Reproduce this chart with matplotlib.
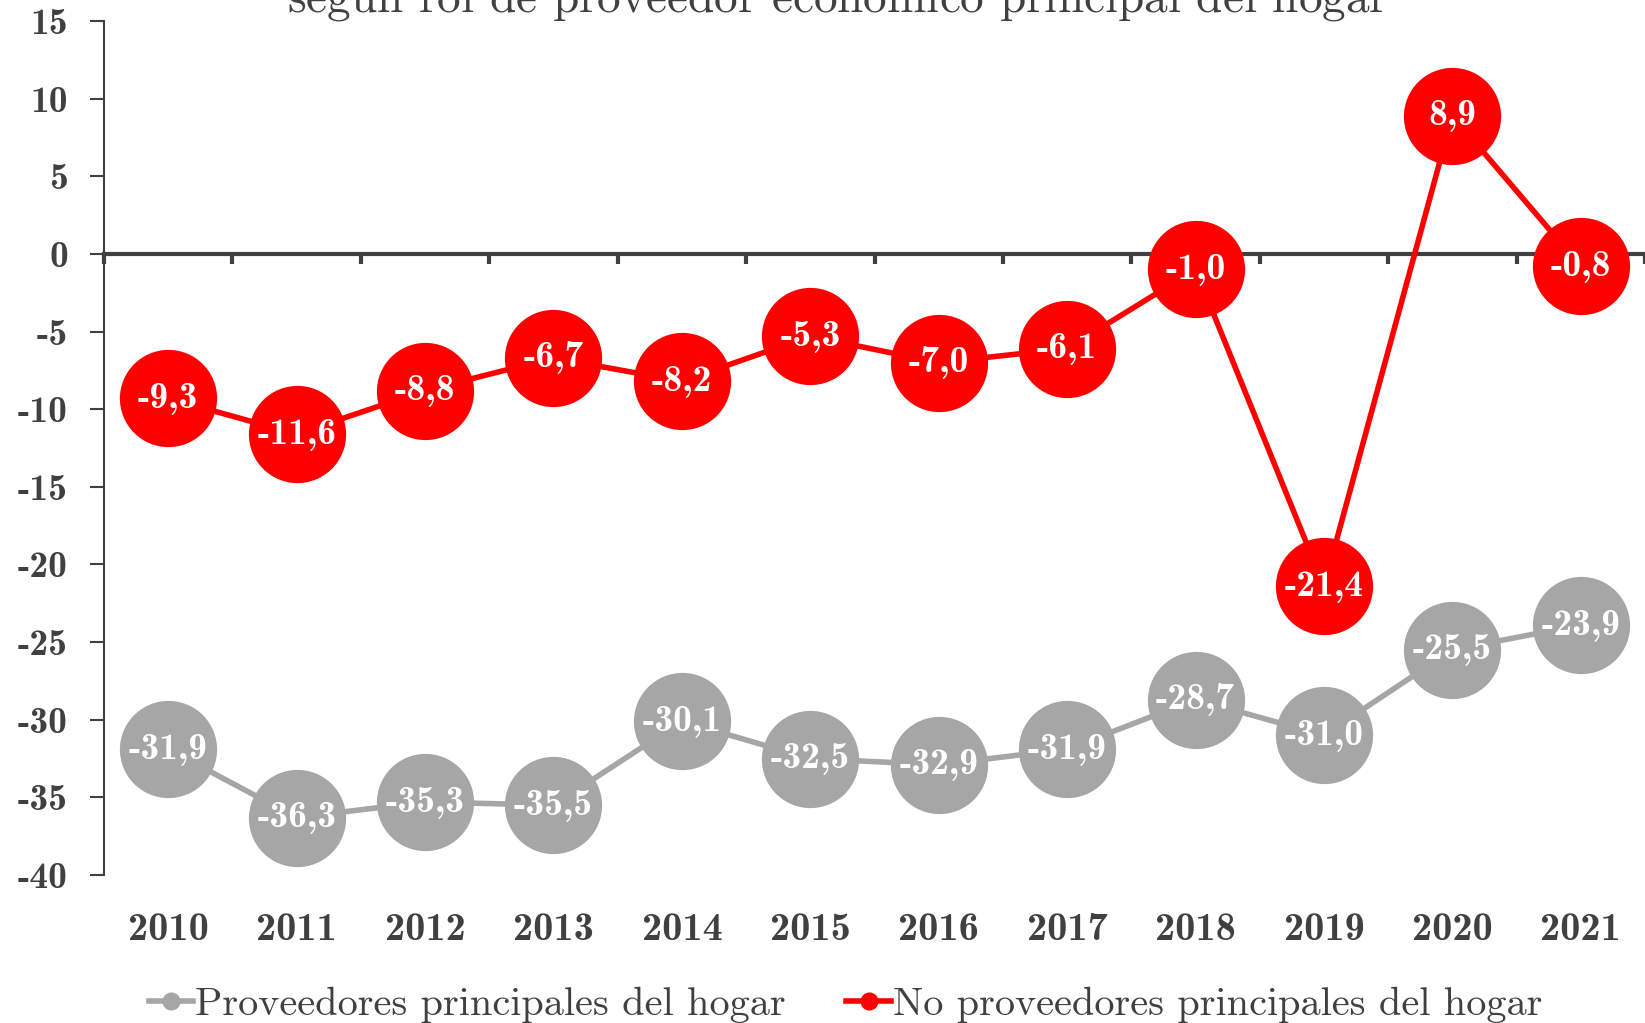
#!/usr/bin/env python3
# Line chart: providers vs non-providers of the household, 2010-2021

import matplotlib
matplotlib.use("Agg")
import matplotlib.pyplot as plt
from matplotlib.lines import Line2D

plt.rcParams["font.family"] = ["cmr10", "DejaVu Serif"]
plt.rcParams["mathtext.fontset"] = "cm"
plt.rcParams["axes.unicode_minus"] = False
plt.rcParams["axes.formatter.use_mathtext"] = True

years = ["2010", "2011", "2012", "2013", "2014", "2015",
         "2016", "2017", "2018", "2019", "2020", "2021"]
proveedores = [-31.9, -36.3, -35.3, -35.5, -30.1, -32.5,
               -32.9, -31.9, -28.7, -31.0, -25.5, -23.9]
no_proveedores = [-9.3, -11.6, -8.8, -6.7, -8.2, -5.3,
                  -7.0, -6.1, -1.0, -21.4, 8.9, -0.8]
yticks = [15, 10, 5, 0, -5, -10, -15, -20, -25, -30, -35, -40]

GRAY = "#A6A6A6"
RED = "#FF0000"
TXT = "#404040"
BOLD = ["cmb10", "DejaVu Serif"]

fig = plt.figure(figsize=(16.45, 10.23), dpi=100)
ax = fig.add_axes([104 / 1645, 1 - 875 / 1023, 1 - 104 / 1645, (875 - 21) / 1023])

x = list(range(len(years)))
ax.plot(x, proveedores, color=GRAY, lw=4, marker="o", ms=70,
        markeredgewidth=0, zorder=3)
ax.plot(x, no_proveedores, color=RED, lw=4, marker="o", ms=70,
        markeredgewidth=0, zorder=4)

for xi, v in zip(x, proveedores):
    ax.text(xi, v, f"{v:.1f}".replace(".", ","), ha="center", va="center",
            color="white", fontsize=27, zorder=5, family=BOLD)
for xi, v in zip(x, no_proveedores):
    ax.text(xi, v, f"{v:.1f}".replace(".", ","), ha="center", va="center",
            color="white", fontsize=27, zorder=6, family=BOLD)

ax.set_xlim(-0.5, 11.27)
ax.set_ylim(-40, 15)

# x axis sits on zero with ticks at category boundaries
ax.spines["bottom"].set_position(("data", 0))
ax.spines["bottom"].set_color(TXT)
ax.spines["bottom"].set_linewidth(3)
ax.spines["bottom"].set_zorder(2)
ax.spines["top"].set_visible(False)
ax.spines["right"].set_visible(False)
ax.spines["left"].set_color(TXT)
ax.spines["left"].set_linewidth(1.5)
ax.set_xticks([i - 0.5 for i in range(len(years) + 1)])
ax.set_xticklabels([])
ax.tick_params(axis="x", direction="out", length=7, width=3, color=TXT)

ax.set_yticks(yticks)
ax.set_yticklabels([str(t) for t in yticks], family=BOLD)
ax.tick_params(axis="y", direction="out", length=10, width=1.5, color=TXT,
               labelsize=27, labelcolor=TXT, pad=16)

for xi, lab in zip(x, years):
    ax.text(xi, -0.065, lab, transform=ax.get_xaxis_transform(), ha="center",
            va="center", fontsize=29, color=TXT, family=BOLD)

fig.text(0.509, 1 - 13 / 1023,
         r"seg$\mathrm{\acute{u}}$n rol de proveedor econ$\mathrm{\acute{o}}$mico principal del hogar",
         ha="center", va="baseline", fontsize=34, color=TXT)

handles = [
    Line2D([], [], color=GRAY, lw=4, marker="o", ms=13, markeredgewidth=0),
    Line2D([], [], color=RED, lw=4, marker="o", ms=13, markeredgewidth=0),
]
fig.legend(handles, ["Proveedores principales del hogar",
                     "No proveedores principales del hogar"],
           loc="center", bbox_to_anchor=(0.514, 0.018), ncol=2, frameon=False,
           fontsize=29, labelcolor=TXT, handlelength=1.1, handletextpad=0.05,
           columnspacing=1.5)

fig.savefig("out.png", dpi=100)
print("saved chart: out.png")
